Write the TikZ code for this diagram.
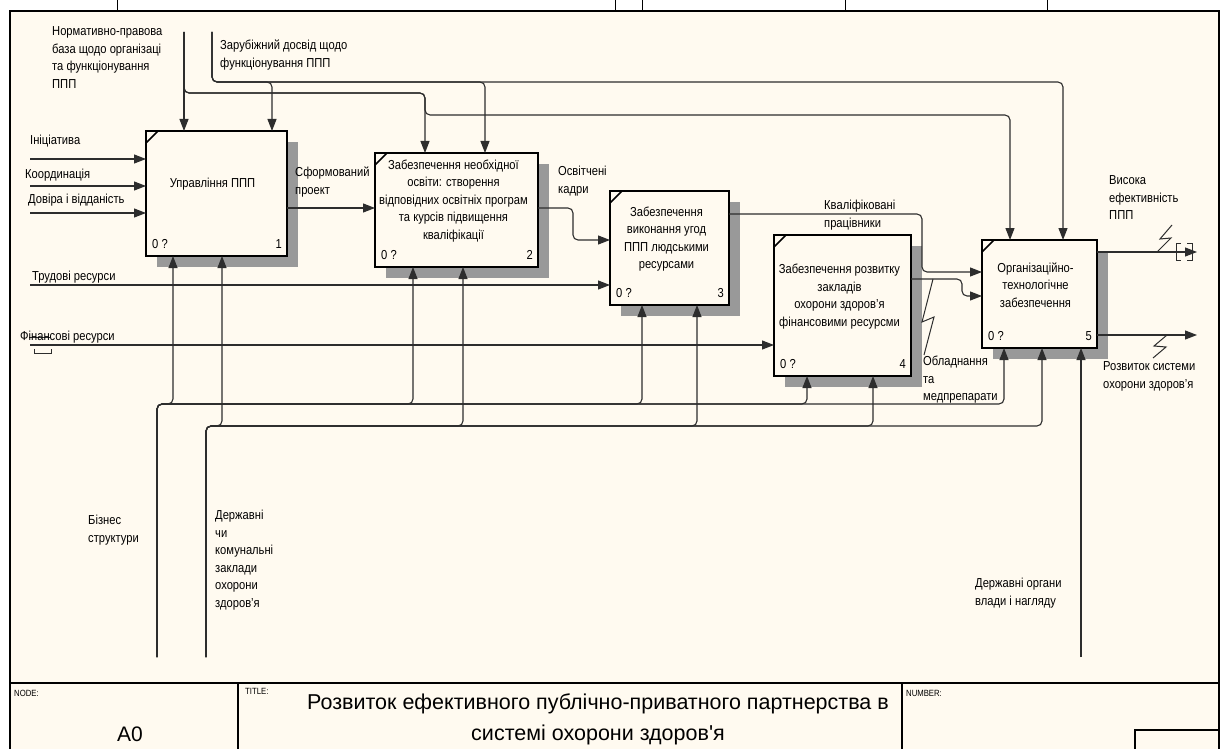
\documentclass[tikz,border=0pt]{standalone}
\usepackage{fontspec}
\setmainfont{Liberation Sans}[FakeStretch=0.86]
\newfontfamily\titlefont{Liberation Sans}
\usetikzlibrary{arrows.meta}
\definecolor{cream}{RGB}{255,250,240}
\definecolor{lncol}{RGB}{45,45,45}
\begin{document}
\begin{tikzpicture}[x=1pt,y=-1pt,
  conn/.style={draw=lncol, line width=1.1pt, rounded corners=5pt},
  arr/.style={conn, -{Triangle[length=12pt,width=9pt]}},
  frm/.style={draw=black, line width=1.4pt},
  procbox/.style={draw=black, line width=2.4pt, fill=cream, anchor=north west, inner sep=0pt, outer sep=0pt},
  shade/.style={fill=black!40},
  lbl/.style={inner sep=0pt, anchor=base west, align=left, font=\fontsize{13}{17.5}\selectfont},
  btxt/.style={inner sep=0pt, align=center, font=\fontsize{13}{17.5}\selectfont},
  num/.style={inner sep=0pt, font=\fontsize{13}{15}\selectfont},
  squig/.style={draw=lncol, line width=1pt},
]
\useasboundingbox (0,0) rectangle (1221,749);
\fill[white] (0,0) rectangle (1221,749);
\fill[cream] (10,11) rectangle (1219,749);
% frame
\draw[frm] (10,749) -- (10,11) -- (1219,11) -- (1219,749);
\draw[frm] (10,683) -- (1219,683);
\draw[frm] (238,683) -- (238,749);
\draw[frm] (902,683) -- (902,749);
\draw[frm] (1135,749) -- (1135,730) -- (1219,730);
\foreach \tx in {117,615,642,845,1047} \draw[line width=1pt] (\tx,0) -- (\tx,11);
% title block
\node[inner sep=0pt, anchor=base west, font=\fontsize{9}{10}\selectfont] (tnode) at (14,696) {NODE:};
\node[inner sep=0pt, anchor=base west, font=\fontsize{9}{10}\selectfont] (ttitle) at (245,694) {TITLE:};
\node[inner sep=0pt, anchor=base west, font=\fontsize{9}{10}\selectfont] (tnum) at (906,696) {NUMBER:};
\node[inner sep=0pt, anchor=base, font=\titlefont\fontsize{21}{24}\selectfont] (anode) at (130,741) {A0};
\node[inner sep=0pt, anchor=base, font=\titlefont\fontsize{21.5}{31}\selectfont, align=center] (title) at (598,740) {Розвиток ефективного публічно-приватного партнерства в\\системі охорони здоров'я};
% shadows
\fill[shade] (157,142) rectangle (298,267);
\fill[shade] (386,164) rectangle (549,278);
\fill[shade] (621,202) rectangle (740,316);
\fill[shade] (785,246) rectangle (922,387);
\fill[shade] (993,251) rectangle (1108,359);
% boxes
\node[procbox, minimum width=141pt, minimum height=125pt] (b1) at (146,131) {};
\node[procbox, minimum width=163pt, minimum height=114pt] (b2) at (375,153) {};
\node[procbox, minimum width=119pt, minimum height=114pt] (b3) at (610,191) {};
\node[procbox, minimum width=137pt, minimum height=141pt] (b4) at (774,235) {};
\node[procbox, minimum width=115pt, minimum height=108pt] (b5) at (982,240) {};
\foreach \b in {b1,b2,b3,b4,b5}{
  \draw[line width=1.5pt] ([yshift=-12pt]\b.north west) -- ([xshift=12pt]\b.north west);
  \node[num, anchor=base west] (\b z) at ([shift={(6pt,8pt)}]\b.south west) {0 ?};
}
\node[num, anchor=base east] (n1) at ([shift={(-5pt,8pt)}]b1.south east) {1};
\node[num, anchor=base east] (n2) at ([shift={(-5pt,8pt)}]b2.south east) {2};
\node[num, anchor=base east] (n3) at ([shift={(-5pt,8pt)}]b3.south east) {3};
\node[num, anchor=base east] (n4) at ([shift={(-5pt,8pt)}]b4.south east) {4};
\node[num, anchor=base east] (n5) at ([shift={(-5pt,8pt)}]b5.south east) {5};
\node[btxt] (t1) at ([shift={(-4pt,9pt)}]b1.center) {Управління ППП};
\node[btxt] (t2) at ([shift={(-3pt,9pt)}]b2.center) {Забезпечення необхідної\\освіти: створення\\відповідних освітніх програм\\та курсів підвищення\\кваліфікації};
\node[btxt] (t3) at ([shift={(-3pt,9pt)}]b3.center) {Забезпечення\\виконання угод\\ППП людськими\\ресурсами};
\node[btxt] (t4) at ([shift={(-3pt,9pt)}]b4.center) {Забезпечення розвитку\\закладів\\охорони здоров'я\\фінансовими ресурсми};
\node[btxt] (t5) at ([shift={(-4pt,9pt)}]b5.center) {Організаційно-\\технологічне\\забезпечення};
% free ends
\coordinate (cNorm) at (184,32);
\coordinate (cZar) at (212,32);
\coordinate (cIni) at (30,159);
\coordinate (cKoor) at (30,186);
\coordinate (cDov) at (30,213);
\coordinate (cTrud) at (30,285);
\coordinate (cFin) at (30,345);
\coordinate (cOut1) at (1197,252);
\coordinate (cOut2) at (1197,335);
\coordinate (cBiz) at (157,657);
\coordinate (cDer) at (206,657);
\coordinate (cOrg) at (1081,657);
% controls
\draw[arr] (cNorm) -- (184,0 |- b1.north);
\draw[arr] (cNorm) |- (425,93) -- (425,0 |- b2.north);
\draw[arr] (cNorm) |- (425,93) |- (1010,115) -- (1010,0 |- b5.north);
\draw[arr] (cZar) |- (272,82) -- (272,0 |- b1.north);
\draw[arr] (cZar) |- (485,82) -- (485,0 |- b2.north);
\draw[arr] (cZar) |- (1063,82) -- (1063,0 |- b5.north);
% inputs
\draw[arr] (cIni) -- (cIni -| b1.west);
\draw[arr] (cKoor) -- (cKoor -| b1.west);
\draw[arr] (cDov) -- (cDov -| b1.west);
\draw[arr] (b1.east |- 0,208) -- (b2.west |- 0,208);
\draw[arr] (b2.east |- 0,208) -- (573,208) -- (573,240) -- (b3.west |- 0,240);
\draw[arr] (cTrud) -- (cTrud -| b3.west);
\draw[arr] (cFin) -- (cFin -| b4.west);
\draw[arr] (b3.east |- 0,214) -- (922,214) -- (922,272) -- (b5.west |- 0,272);
\draw[arr] (b4.east |- 0,279) -- (962,279) -- (962,296) -- (b5.west |- 0,296);
% outputs
\draw[arr] (b5.east |- cOut1) -- (cOut1);
\draw[arr] (b5.east |- cOut2) -- (cOut2);
% mechanisms
\draw[arr] (cBiz) |- (173,404) -- (173,0 |- b1.south);
\draw[arr] (cBiz) |- (413,404) -- (413,0 |- b2.south);
\draw[arr] (cBiz) |- (642,404) -- (642,0 |- b3.south);
\draw[arr] (cBiz) |- (807,404) -- (807,0 |- b4.south);
\draw[arr] (cBiz) |- (1004,404) -- (1004,0 |- b5.south);
\draw[arr] (cDer) |- (222,426) -- (222,0 |- b1.south);
\draw[arr] (cDer) |- (463,426) -- (463,0 |- b2.south);
\draw[arr] (cDer) |- (697,426) -- (697,0 |- b3.south);
\draw[arr] (cDer) |- (873,426) -- (873,0 |- b4.south);
\draw[arr] (cDer) |- (1042,426) -- (1042,0 |- b5.south);
\draw[arr] (cOrg) -- (cOrg |- b5.south);
% squiggles and tunnels
\draw[squig] (933,279) -- (922,322) -- (934,317) -- (924,355);
\draw[squig] (1172,225) -- (1160,239) -- (1171,238) -- (1157,252);
\draw[squig] (1167,335) -- (1154,346) -- (1166,347) -- (1153,358);
\draw[squig] (1181,243) -- (1176,243) -- (1176,260) -- (1181,260);
\draw[squig] (1187,243) -- (1192,243) -- (1192,260) -- (1187,260);
\draw[squig] (29,337) -- (50,337);
\draw[squig] (34,349) -- (34,353) -- (51,353) -- (51,349);
% labels
\node[lbl] (lNorm) at (52,88.1) {Нормативно-правова\\база щодо організаці\\та функціонування\\ППП};
\node[lbl] (lZar) at (220,67.1) {Зарубіжний досвід щодо\\функціонування ППП};
\node[lbl] (lIni) at (30,144.6) {Ініціатива};
\node[lbl] (lKoor) at (25,178.6) {Координація};
\node[lbl] (lDov) at (28,203.6) {Довіра і відданість};
\node[lbl] (lSf) at (295,194.1) {Сформований\\проект};
\node[lbl] (lOsv) at (558,193.1) {Освітчені\\кадри};
\node[lbl] (lTrud) at (32,280.6) {Трудові ресурси};
\node[lbl] (lFin) at (20,340.6) {Фінансові ресурси};
\node[lbl] (lKv) at (824,227.1) {Кваліфіковані\\працівники};
\node[lbl] (lVys) at (1109,219.6) {Висока\\ефективність\\ППП};
\node[lbl] (lObl) at (923,400.6) {Обладнання\\та\\медпрепарати};
\node[lbl] (lRoz) at (1103,388.1) {Розвиток системи\\охорони здоров'я};
\node[lbl] (lBiz) at (88,542.1) {Бізнес\\структури};
\node[lbl] (lDer) at (215,607.1) {Державні\\чи\\комунальні\\заклади\\охорони\\здоров'я};
\node[lbl] (lOrg) at (975,605.1) {Державні органи\\влади і нагляду};
\end{tikzpicture}
\end{document}
